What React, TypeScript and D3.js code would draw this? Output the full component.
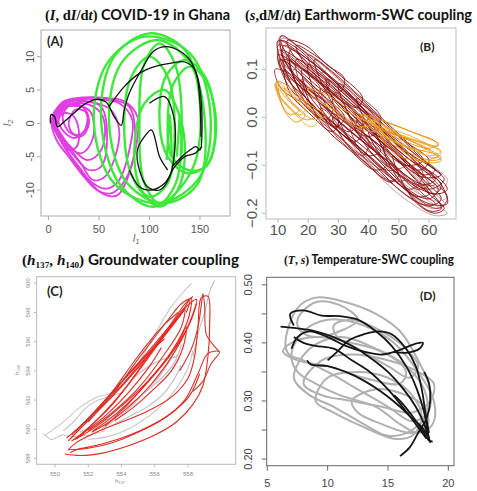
import React from 'react';
import * as d3 from 'd3';

type Pt = [number, number];

// ---------- Panel A : (I, dI/dt) COVID-19 in Ghana ----------
const aXTicks = [0, 50, 100, 150];
const aYTicks = [-10, -5, 0, 5, 10];

const magentaLoops: Pt[][] = [
  [[3, 0.5], [12, 2.8], [30, 3.7], [55, 3.8], [75, 3.3], [88, 1], [86, -4], [76, -8.5], [62, -10.5], [48, -10], [35, -8], [20, -5], [8, -2.5]],
  [[4, 0], [12, 2.5], [28, 3.5], [50, 3.6], [70, 3], [83, 0.5], [80, -4], [70, -8.5], [58, -9.8], [44, -9], [30, -6.5], [16, -3.5]],
  [[5, 0], [15, 2.5], [30, 3.2], [48, 3], [62, 2], [70, -1], [66, -5], [56, -8], [44, -8.5], [32, -6], [18, -3]],
  [[6, 0.5], [14, 2.5], [26, 3], [40, 2.8], [52, 1.5], [56, -1.5], [50, -4.5], [38, -5.5], [25, -4], [14, -2]],
  [[7, 0], [15, 2.3], [28, 2.6], [40, 2], [45, 0], [42, -3], [32, -4.5], [20, -3.5], [11, -1.5]],
  [[10, 0.5], [18, 2.5], [30, 2.8], [38, 1.5], [36, -1], [26, -2.2], [15, -1.2]],
  [[14, 1], [22, 2.8], [34, 2.5], [40, 0.5], [34, -1.5], [22, -1.5]],
  [[20, 0], [26, 2], [36, 1.8], [40, -0.2], [32, -2], [24, -1.5]],
  [[8, -0.5], [14, 1.5], [24, 1.2], [30, -1], [28, -3.5], [20, -4], [12, -2.5]],
  [[6, 1], [16, 3], [34, 3.4], [52, 2.5], [58, -2], [52, -6.5], [40, -7], [26, -5], [12, -2]],
  [[5, 0.8], [14, 3.2], [36, 3.9], [62, 3.6], [80, 2.5], [86, -2], [80, -7.5], [68, -10.8], [54, -10.6], [40, -8.6], [24, -5.5], [10, -2]],
];

const greenLoops: Pt[][] = [
  [[45, 0], [58, 9], [95, 13], [140, 10.5], [160, 2], [150, -8], [110, -12], [65, -9]],
  [[52, 1], [65, 10], [100, 13.5], [135, 11], [150, 3], [142, -7], [105, -12.5], [70, -9]],
  [[60, 0], [72, 9], [108, 12.5], [140, 9], [155, 0], [148, -9], [115, -12], [78, -9]],
  [[90, 0], [95, 9], [110, 12], [125, 9], [132, 0], [126, -9], [110, -12], [95, -9]],
  [[110, 0], [116, 7], [135, 9.5], [155, 7], [165, 0], [158, -6], [138, -7.5], [118, -5]],
  [[118, 0], [124, 6], [140, 8.5], [157, 6], [166, -1], [156, -6.5], [138, -7], [122, -5]],
  [[75, -1], [82, 7], [100, 10], [118, 7], [125, -1], [118, -9], [100, -11], [83, -8]],
  [[85, -4], [95, 3], [115, 5], [130, 1], [135, -5], [128, -10], [110, -12.5], [92, -10]],
];

const greenSpikes: Pt[][] = [
  [[117, -5.5], [119, -1], [120, 1.3], [121, -0.5], [122, -5]],
  [[127, -5], [129, -1], [130, 1.3], [131, -0.5], [132, -4.5]],
];

const blackPathsA: Pt[][] = [
  [[2, 0], [2.5, 1.3], [6, 1], [9, -0.5], [16, 0.3], [25, 1.5], [35, 2.8], [47, 3.6], [57, 3.2], [65, 1], [72, -0.3], [75, 2], [80, 4.5], [92, 8], [104, 10.8], [115, 11.5], [128, 11], [140, 9.5], [147, 7], [150, 3], [151, -2]],
  [[60, 2.5], [75, 5.5], [90, 7.5], [105, 8.5], [120, 9], [135, 9.2], [145, 8], [150, 5], [152, 0], [150, -4], [146, -3.5], [140, -4], [132, -5], [122, -6.5]],
  [[100, 3], [115, 4], [124, 1], [125, -4], [120, -8], [110, -10], [98, -9.5], [90, -7], [88, -4], [95, -2], [102, -1], [110, -5], [118, -7]],
  [[80, -7], [90, -9.5], [102, -10], [115, -9], [125, -6.5], [135, -5], [145, -4.5], [152, -3.5]],
];

// ---------- Panel B : (s, dM/dt) Earthworm-SWC coupling ----------
const bXTicks = [10, 20, 30, 40, 50, 60];
const bYTicks = [-0.2, -0.1, 0.0, 0.1];

const darkLoopsB: Pt[][] = [
  [[10, 0.16], [20, 0.12], [32, 0.06], [45, -0.03], [55, -0.09], [62, -0.13], [58, -0.14], [46, -0.09], [34, -0.03], [22, 0.04], [12, 0.1]],
  [[11, 0.17], [18, 0.14], [28, 0.08], [38, 0.02], [44, -0.02], [40, -0.04], [30, 0.0], [20, 0.06], [12, 0.12]],
  [[12, 0.15], [22, 0.1], [34, 0.03], [48, -0.05], [60, -0.12], [66, -0.17], [63, -0.19], [54, -0.16], [42, -0.09], [30, -0.03], [18, 0.04], [12, 0.1]],
  [[10, 0.13], [16, 0.11], [26, 0.06], [36, 0.0], [34, -0.03], [24, 0.01], [14, 0.06]],
  [[14, 0.14], [24, 0.1], [36, 0.03], [50, -0.06], [62, -0.11], [65, -0.13], [60, -0.15], [48, -0.11], [36, -0.05], [24, 0.01], [16, 0.07]],
  [[16, 0.12], [26, 0.08], [40, 0.0], [52, -0.07], [58, -0.12], [54, -0.15], [44, -0.11], [32, -0.05], [20, 0.03]],
  [[12, 0.12], [20, 0.09], [30, 0.04], [38, -0.01], [36, -0.05], [28, -0.02], [18, 0.03]],
  [[20, 0.11], [30, 0.06], [42, -0.01], [56, -0.09], [64, -0.14], [66, -0.18], [60, -0.18], [50, -0.14], [38, -0.07], [26, 0.0]],
  [[9, 0.1], [14, 0.09], [22, 0.05], [28, 0.02], [26, -0.005], [18, 0.03], [11, 0.06]],
  [[22, 0.12], [32, 0.07], [44, 0.0], [54, -0.06], [58, -0.09], [52, -0.1], [42, -0.05], [30, 0.01]],
  [[28, 0.05], [38, 0.0], [48, -0.06], [58, -0.13], [64, -0.17], [60, -0.185], [52, -0.16], [42, -0.1], [32, -0.03]],
  [[10, 0.15], [15, 0.14], [22, 0.1], [27, 0.07], [24, 0.05], [17, 0.08], [11, 0.12]],
  [[30, 0.07], [40, 0.02], [50, -0.04], [60, -0.1], [64, -0.12], [58, -0.125], [46, -0.07], [35, -0.01]],
  [[18, 0.08], [26, 0.03], [34, -0.02], [42, -0.07], [46, -0.1], [42, -0.11], [34, -0.07], [24, -0.01]],
  [[34, -0.02], [42, -0.06], [50, -0.11], [58, -0.16], [62, -0.18], [57, -0.18], [48, -0.14], [38, -0.08]],
  [[13, 0.16], [19, 0.15], [26, 0.11], [32, 0.08], [30, 0.05], [22, 0.09], [15, 0.13]],
  [[40, -0.03], [46, -0.05], [54, -0.09], [62, -0.12], [66, -0.15], [62, -0.16], [52, -0.13], [44, -0.08]],
  [[24, 0.06], [32, 0.02], [40, -0.03], [48, -0.07], [52, -0.1], [46, -0.11], [38, -0.07], [28, 0.0]],
  [[11, 0.14], [17, 0.12], [25, 0.08], [34, 0.03], [40, -0.0], [36, -0.02], [26, 0.03], [16, 0.08]],
  [[45, -0.06], [52, -0.09], [58, -0.12], [63, -0.15], [60, -0.17], [53, -0.15], [47, -0.1]],
  [[15, 0.1], [24, 0.05], [32, 0.0], [40, -0.05], [38, -0.08], [30, -0.04], [20, 0.02]],
  [[36, 0.04], [44, -0.01], [52, -0.05], [60, -0.09], [57, -0.11], [48, -0.08], [40, -0.02]],
  [[11, 0.16], [16, 0.145], [24, 0.1], [34, 0.045], [44, -0.01], [42, -0.03], [32, 0.02], [22, 0.07], [14, 0.12]],
  [[13, 0.13], [22, 0.085], [32, 0.03], [44, -0.04], [54, -0.1], [60, -0.14], [56, -0.15], [46, -0.09], [34, -0.02], [22, 0.04], [15, 0.09]],
  [[18, 0.1], [28, 0.05], [38, -0.01], [50, -0.08], [60, -0.15], [64, -0.19], [60, -0.195], [52, -0.15], [40, -0.08], [28, -0.01], [20, 0.05]],
  [[26, 0.08], [36, 0.03], [46, -0.03], [56, -0.08], [62, -0.11], [58, -0.12], [48, -0.07], [36, -0.01], [28, 0.04]],
  [[10, 0.14], [13, 0.13], [18, 0.1], [24, 0.06], [22, 0.04], [16, 0.07], [11, 0.1]],
  [[32, 0.03], [40, -0.02], [48, -0.08], [56, -0.13], [60, -0.16], [56, -0.165], [48, -0.12], [38, -0.05]],
  [[14, 0.12], [22, 0.08], [30, 0.03], [38, -0.03], [44, -0.07], [40, -0.08], [32, -0.04], [22, 0.02], [16, 0.07]],
  [[20, 0.13], [28, 0.095], [36, 0.05], [44, 0.0], [42, -0.02], [34, 0.02], [24, 0.07]],
  [[42, -0.02], [50, -0.07], [58, -0.11], [64, -0.14], [62, -0.16], [54, -0.13], [46, -0.08]],
  [[16, 0.15], [22, 0.13], [30, 0.09], [38, 0.04], [36, 0.02], [28, 0.06], [19, 0.11]],
  [[24, 0.02], [32, -0.02], [40, -0.06], [48, -0.1], [52, -0.13], [46, -0.13], [38, -0.09], [28, -0.03]],
  [[48, -0.08], [54, -0.12], [60, -0.16], [65, -0.19], [62, -0.2], [56, -0.18], [50, -0.12]],
  [[12, 0.1], [18, 0.06], [24, 0.03], [30, -0.01], [28, -0.03], [20, 0.01], [14, 0.05]],
  [[36, 0.0], [44, -0.04], [52, -0.09], [58, -0.12], [62, -0.14], [56, -0.14], [46, -0.1], [40, -0.05]],
  [[10.5, 0.12], [14, 0.11], [19, 0.08], [26, 0.04], [32, 0.0], [29, -0.02], [21, 0.03], [13, 0.08]],
  [[28, 0.0], [36, -0.04], [44, -0.08], [50, -0.12], [47, -0.135], [40, -0.1], [32, -0.05]],
];

const paleLoopsB: Pt[][] = [
  [[10.5, 0.168], [16, 0.15], [28, 0.09], [42, 0.0], [56, -0.08], [66, -0.13], [64, -0.15], [54, -0.11], [40, -0.05], [26, 0.03], [14, 0.1]],
  [[30, -0.01], [40, -0.06], [50, -0.12], [60, -0.175], [66, -0.2], [62, -0.205], [52, -0.17], [40, -0.1]],
  [[38, -0.02], [48, -0.07], [58, -0.12], [66, -0.165], [63, -0.175], [52, -0.14], [42, -0.07]],
  [[44, -0.05], [52, -0.1], [60, -0.15], [65, -0.18], [61, -0.19], [54, -0.16], [47, -0.1]],
  [[10, 0.155], [12, 0.165], [18, 0.14], [26, 0.1], [22, 0.09], [14, 0.12]],
];

const orangeLoopsB: Pt[][] = [
  [[9.5, 0.075], [12, 0.07], [16, 0.05], [20, 0.02], [22, 0.0], [19, -0.005], [14, 0.02], [10, 0.05]],
  [[10, 0.065], [14, 0.05], [18, 0.03], [24, 0.0], [21, -0.02], [15, 0.01], [11, 0.04]],
  [[9, 0.07], [11, 0.06], [14, 0.035], [17, 0.015], [14, 0.005], [11, 0.03]],
  [[20, 0.06], [28, 0.04], [36, 0.01], [42, -0.01], [38, -0.02], [30, 0.01], [22, 0.04]],
  [[38, 0.005], [46, -0.01], [54, -0.03], [62, -0.05], [63, -0.06], [56, -0.05], [46, -0.03], [40, -0.01]],
  [[40, -0.005], [48, -0.025], [56, -0.045], [64, -0.075], [62, -0.085], [54, -0.065], [46, -0.04]],
  [[42, -0.02], [50, -0.04], [58, -0.06], [64, -0.085], [61, -0.09], [52, -0.07], [44, -0.04]],
  [[36, 0.0], [44, -0.02], [52, -0.04], [60, -0.06], [57, -0.07], [48, -0.05], [40, -0.02]],
  [[44, -0.04], [52, -0.06], [58, -0.07], [63, -0.08], [58, -0.09], [50, -0.08]],
  [[9.5, 0.072], [11, 0.07], [13, 0.055], [16, 0.035], [19, 0.015], [17, 0.005], [13, 0.025], [10.5, 0.045]],
  [[10.2, 0.06], [12, 0.045], [15, 0.025], [19, 0.005], [16, -0.01], [12, 0.015]],
  [[12, 0.06], [16, 0.045], [22, 0.02], [26, 0.005], [22, -0.005], [16, 0.02]],
  [[40, 0.0], [50, -0.02], [58, -0.04], [63, -0.055], [60, -0.065], [52, -0.05], [44, -0.025]],
  [[42, -0.01], [50, -0.035], [58, -0.055], [64, -0.07], [61, -0.08], [52, -0.06], [45, -0.035]],
  [[46, -0.03], [54, -0.05], [60, -0.07], [64, -0.09], [60, -0.095], [52, -0.075]],
  [[26, 0.03], [32, 0.015], [38, -0.005], [44, -0.025], [40, -0.03], [33, -0.01]],
];

// ---------- Panel C : (h137, h140) Groundwater coupling ----------
const cXTicks = [550, 552, 554, 556, 558];
const cYTicks = [588, 590, 592, 594, 596, 598, 600];

const redPathsC: Pt[][] = [
  [[550.8, 589.2], [552, 590.6], [553.5, 592.3], [555, 594.2], [556.5, 596.3], [557.6, 598], [558.2, 599], [558, 597.5], [557, 595.3], [555.5, 593.2], [554, 591.6], [552.5, 590.2], [551.2, 589.3]],
  [[551, 589.6], [552.2, 591], [553.4, 592.5], [554.6, 594], [555.8, 595.6], [557, 597.2], [557.8, 598.3], [557.6, 597], [556.5, 595], [555, 592.8], [553.5, 591.2], [552, 589.9]],
  [[551.5, 589.5], [553, 591.2], [554.5, 593.2], [556, 595.5], [557.2, 597.4], [558, 598.5], [558.5, 598.9], [558.3, 597.8], [557.5, 596], [556.3, 594.2], [555, 592.5], [553.5, 590.9], [552.3, 589.9]],
  [[550.6, 588.3], [551.5, 588.2], [553, 588.4], [554.5, 588.9], [556, 589.6], [557.3, 590.5], [558.3, 591.7], [558.9, 593], [559.2, 595], [559.3, 597], [559.2, 599.1], [558.8, 599], [558.6, 597], [558.4, 595], [558, 593.5], [557, 592.2], [555.5, 591.2], [554, 590.5], [552.5, 589.8], [551.3, 589.1], [550.8, 588.6]],
  [[550.8, 588.6], [552, 588.7], [553.5, 589.1], [555, 589.8], [556.5, 590.7], [557.8, 592], [558.6, 593.8], [559.2, 595.2], [559.9, 595.3], [559.4, 594.5], [558.9, 593.3], [558.3, 592.6]],
  [[552, 590.5], [553, 591.8], [554, 593], [555, 594.3], [556, 595.6], [557, 597], [557.8, 598.2]],
  [[551.2, 589.8], [552.4, 591.2], [553.6, 592.7], [554.8, 594.2], [555.8, 595.4], [556.6, 596.2]],
  [[557.5, 594], [558.2, 595.5], [558.6, 597], [558.8, 598.5], [558.9, 599.3], [559, 598.5], [559.1, 596.5], [559.5, 595.8], [559.9, 595.3]],
  [[551, 589.2], [552, 590], [553, 590.9], [554, 592], [555, 593.3], [555.8, 594.5], [556.4, 595.6]],
  [[553, 590.2], [554.2, 591.5], [555.4, 593], [556.6, 594.6], [557.4, 595.9], [557.9, 597], [557.7, 595.6], [557, 594], [555.8, 592.6], [554.6, 591.4], [553.6, 590.6]],
  [[550.7, 589.4], [551.6, 590.3], [552.6, 591.4], [553.6, 592.8], [554.6, 594.4], [555.6, 595.9], [556.6, 597.2], [557.4, 598]],
  [[551.3, 589.4], [552.3, 590.4], [553.3, 591.5], [554.3, 592.9], [555.3, 594.5], [556.3, 596.1], [557.2, 597.6], [557.9, 598.7], [558.3, 599.1]],
  [[552.5, 591.3], [553.5, 592.6], [554.5, 593.9], [555.5, 595.1], [556.5, 596.4], [557.3, 597.5]],
  [[551.8, 590.4], [552.8, 591.5], [553.8, 592.9], [554.8, 594.5], [555.8, 596], [556.8, 597.5], [557.6, 598.6], [558.1, 598.9], [557.9, 598]],
  [[552.2, 589.8], [553.4, 590.6], [554.6, 591.7], [555.8, 593.1], [556.8, 594.6], [557.6, 596.1], [558.2, 597.6], [558.5, 598.6]],
  [[550.9, 588.4], [551.3, 588.6], [552.5, 588.9], [554, 589.4], [555.5, 590.1], [557, 591.1], [558.1, 592.3], [558.7, 593.8]],
];

const grayPathsC: Pt[][] = [
  [[549.4, 589.6], [550.4, 590.4], [551.5, 591.5], [552.5, 592.2], [553.2, 592.4], [554, 592.9], [555, 594.5], [556, 596.5], [557, 598.4], [557.8, 599.5], [558.2, 600]],
  [[551.5, 589.8], [552.5, 590.3], [553.5, 590.9], [554.5, 591.7], [555.5, 592.6], [556.5, 593.6], [557.2, 594.6], [557.6, 595.8], [557.3, 595], [556.5, 594.8], [555.5, 594.2], [554.5, 593.3]],
  [[552, 589.3], [553.5, 589.6], [555, 590.4], [556.3, 591.5], [557.3, 592.8], [558, 594.2], [558.3, 595.4]],
  [[558.3, 595], [558.6, 596.5], [559, 598], [559.3, 599.4], [559.6, 600.2]],
  [[550.5, 589.9], [551.2, 590.6], [551.8, 591.4], [552.4, 591.9], [553.2, 592.2], [554, 592.5]],
  [[552.8, 590], [553.8, 590.8], [554.8, 591.8], [555.6, 592.8], [556.2, 593.5], [556.8, 594.5], [557.3, 595.5], [557.8, 596.6]],
  [[549.3, 589.7], [549.8, 589.3], [550.4, 589.6], [551, 589.5], [552, 589.6], [553, 589.9]],
  [[553.5, 590.3], [554.5, 590.9], [555.5, 591.5], [556.5, 592.4], [557.2, 593.5], [557.6, 594.4]],
];

// ---------- Panel D : (T, s) Temperature-SWC coupling ----------
const dXTicks = [5, 10, 15, 20];
const dYTicks = [0.2, 0.25, 0.3, 0.35, 0.4, 0.45, 0.5];
const dYLabels = [0.2, 0.3, 0.4, 0.5];

const grayLoopsD: Pt[][] = [
  [[6.5, 0.4], [7.5, 0.46], [9, 0.478], [11.5, 0.47], [14, 0.45], [16, 0.42], [17.5, 0.37], [18.5, 0.32], [18.3, 0.28], [17, 0.265], [15, 0.29], [12.5, 0.32], [10, 0.35], [8, 0.37], [6.8, 0.38]],
  [[7, 0.38], [8, 0.42], [10, 0.44], [13, 0.43], [15.5, 0.4], [17.5, 0.35], [18.8, 0.3], [18.7, 0.26], [17.5, 0.245], [16, 0.26], [14, 0.29], [11, 0.31], [9, 0.33], [7.5, 0.35]],
  [[7.2, 0.34], [8.5, 0.39], [11, 0.41], [14, 0.39], [16.5, 0.36], [18, 0.32], [18.2, 0.28], [17, 0.25], [15, 0.24], [13, 0.26], [10.5, 0.29], [8.5, 0.31]],
  [[8, 0.33], [9.5, 0.37], [12, 0.38], [15, 0.37], [17.5, 0.35], [18.8, 0.33], [18.5, 0.3], [17, 0.28], [14.5, 0.29], [12, 0.3], [9.5, 0.31]],
  [[9, 0.3], [10, 0.34], [12.5, 0.35], [15, 0.34], [17, 0.31], [17.8, 0.27], [17, 0.24], [15.5, 0.235], [13, 0.255], [10.5, 0.28]],
  [[6.3, 0.385], [7, 0.4], [9, 0.41], [12, 0.4], [15, 0.38], [16.5, 0.35], [16, 0.33], [13, 0.34], [10, 0.36], [7.5, 0.37]],
  [[10.5, 0.43], [12, 0.44], [14.5, 0.42], [16.5, 0.39], [17.5, 0.36], [16.8, 0.34], [15, 0.36], [12.5, 0.39], [10.8, 0.41]],
  [[7.5, 0.44], [9, 0.47], [11, 0.465], [12.5, 0.44], [11, 0.42], [9, 0.41], [7.8, 0.42]],
  [[12, 0.3], [14, 0.32], [16.5, 0.31], [18, 0.29], [18.3, 0.26], [17, 0.245], [14.5, 0.26], [12.5, 0.28]],
];

const blackPathsD: Pt[][] = [
  [[7.2, 0.43], [6.9, 0.45], [8, 0.456], [9.5, 0.447], [11, 0.446], [12.5, 0.44], [14, 0.42], [15.3, 0.395], [16.5, 0.36], [17.4, 0.32], [18, 0.28], [18.3, 0.245], [18.5, 0.228]],
  [[6.1, 0.428], [7.5, 0.425], [9, 0.42], [10.5, 0.41], [12, 0.395], [13.5, 0.375], [15, 0.35], [16.3, 0.32], [17.3, 0.29], [18, 0.26], [18.4, 0.235]],
  [[7, 0.39], [7.5, 0.41], [8.5, 0.42], [10, 0.41], [11.5, 0.395], [13, 0.385], [14.5, 0.38], [16, 0.388], [17.2, 0.398], [17.9, 0.4], [17.6, 0.39], [16.5, 0.383], [15.5, 0.384]],
  [[8.3, 0.37], [8.6, 0.363], [10, 0.36], [11.5, 0.35], [13, 0.335], [14.5, 0.315], [16, 0.29], [17, 0.27], [17.8, 0.255], [18.3, 0.24]],
  [[10, 0.37], [10.8, 0.385], [11.8, 0.405], [13, 0.415], [14.2, 0.42], [15.3, 0.415], [16.5, 0.39], [17.3, 0.36], [17.8, 0.32], [18.1, 0.28], [18.4, 0.245]],
  [[16, 0.205], [16.8, 0.22], [17.5, 0.245], [18.2, 0.27], [18.5, 0.3], [18.4, 0.33], [18, 0.35]],
  [[7.2, 0.41], [8, 0.4], [9, 0.395], [10.5, 0.39], [12, 0.37], [13.5, 0.35], [15, 0.32], [16.2, 0.29], [17.3, 0.26], [18.2, 0.235]],
  [[15.5, 0.31], [16, 0.3], [16.8, 0.28], [17.5, 0.26], [18, 0.245], [18.4, 0.232], [18.7, 0.23]],
];

const sans = "'Liberation Sans', Arial, sans-serif";
const titleFont = "Lato, 'Open Sans', sans-serif";
const mathFont = "'Liberation Serif', 'DejaVu Serif', serif";

function curveOf(x, y, closed) {
  return d3.line<Pt>()
    .x(d => x(d[0]))
    .y(d => y(d[1]))
    .curve(closed ? d3.curveCatmullRomClosed.alpha(0.5) : d3.curveCatmullRom.alpha(0.5));
}

function Axes({ x, y, xTicks, yTicks, yLabels, fmtX, fmtY, size, color, box, xLabY, yLabX, tick }) {
  const [x0, x1] = x.range();
  const [y0, y1] = y.range();
  const labels = yLabels || yTicks;
  return (
    <g>
      <rect x={x0} y={y1} width={x1 - x0} height={y0 - y1} fill="none" stroke={box} strokeWidth={1} />
      {xTicks.map(t => (
        <g key={'x' + t}>
          <line x1={x(t)} x2={x(t)} y1={y0} y2={y0 + tick} stroke={box} />
          <text x={x(t)} y={xLabY} textAnchor="middle" dominantBaseline="middle" fontSize={size} fill={color} fontFamily={sans}>{fmtX(t)}</text>
        </g>
      ))}
      {yTicks.map(t => (
        <line key={'y' + t} x1={x0} x2={x0 - tick} y1={y(t)} y2={y(t)} stroke={box} />
      ))}
      {labels.map(t => (
        <text key={'yl' + t} transform={`translate(${yLabX},${y(t)}) rotate(-90)`} textAnchor="middle" dominantBaseline="middle" fontSize={size} fill={color} fontFamily={sans}>{fmtY(t)}</text>
      ))}
    </g>
  );
}

export default function App() {
  // scales
  const ax = d3.scaleLinear().domain([-7.4, 179.7]).range([41, 230]);
  const ay = d3.scaleLinear().domain([-13.9, 14.0]).range([216, 30]);
  const bx = d3.scaleLinear().domain([6, 68.9]).range([266, 456]);
  const by = d3.scaleLinear().domain([-0.212, 0.186]).range([219, 28]);
  const cx = d3.scaleLinear().domain([548.9, 560.87]).range([36.7, 235.7]);
  const cy = d3.scaleLinear().domain([587.6, 600.45]).range([464.3, 276.7]);
  const dx = d3.scaleLinear().domain([4.95, 20.47]).range([266.7, 454]);
  const dy = d3.scaleLinear().domain([0.1885, 0.513]).range([465.7, 277.3]);

  const aClosed = curveOf(ax, ay, true), aOpen = curveOf(ax, ay, false);
  const bClosed = curveOf(bx, by, true);
  const cOpen = curveOf(cx, cy, false);
  const dClosed = curveOf(dx, dy, true), dOpen = curveOf(dx, dy, false);

  const clip = (id, x, y) => (
    <clipPath id={id}>
      <rect x={x.range()[0]} y={y.range()[1]} width={x.range()[1] - x.range()[0]} height={y.range()[0] - y.range()[1]} />
    </clipPath>
  );

  return (
    <svg width={477} height={491} style={{ position: 'absolute', left: 0, top: 0, background: '#fff' }}>
      <defs>
        {clip('ca', ax, ay)}
        {clip('cb', bx, by)}
        {clip('cc', cx, cy)}
        {clip('cd', dx, dy)}
      </defs>

      {/* Titles */}
      <text x={45} y={20} textLength={185} lengthAdjust="spacingAndGlyphs" fontSize={15} fontWeight="bold" fontFamily={titleFont} fill="#111">
        <tspan fontFamily={mathFont}>(<tspan fontStyle="italic">I</tspan>, d<tspan fontStyle="italic">I</tspan>/d<tspan fontStyle="italic">t</tspan>)</tspan> COVID-19 in Ghana
      </text>
      <text x={245} y={20} textLength={227} lengthAdjust="spacingAndGlyphs" fontSize={15} fontWeight="bold" fontFamily={titleFont} fill="#111">
        <tspan fontFamily={mathFont}>(<tspan fontStyle="italic">s</tspan>,d<tspan fontStyle="italic">M</tspan>/d<tspan fontStyle="italic">t</tspan>)</tspan> Earthworm-SWC coupling
      </text>
      <text x={22} y={265} textLength={217} lengthAdjust="spacingAndGlyphs" fontSize={15} fontWeight="bold" fontFamily={titleFont} fill="#111">
        <tspan fontFamily={mathFont}>(<tspan fontStyle="italic">h</tspan><tspan fontSize={9} dy={3}>137</tspan><tspan dy={-3}>, </tspan><tspan fontStyle="italic">h</tspan><tspan fontSize={9} dy={3}>140</tspan><tspan dy={-3}>)</tspan></tspan> Groundwater coupling
      </text>
      <text x={284} y={264} textLength={170} lengthAdjust="spacingAndGlyphs" fontSize={13} fontWeight="bold" fontFamily={titleFont} fill="#111">
        <tspan fontFamily={mathFont}>(<tspan fontStyle="italic">T</tspan>, <tspan fontStyle="italic">s</tspan>)</tspan> Temperature-SWC coupling
      </text>

      {/* Panel A */}
      <g clipPath="url(#ca)">
        {magentaLoops.map((p, i) => <path key={'m' + i} d={aClosed(p)} fill="none" stroke="#e03de4" strokeWidth={1.8} />)}
        {greenLoops.map((p, i) => <path key={'g' + i} d={aClosed(p)} fill="none" stroke="#3ee83a" strokeWidth={2.4} />)}
        {greenSpikes.map((p, i) => <path key={'s' + i} d={aOpen(p)} fill="none" stroke="#3ee83a" strokeWidth={2.4} />)}
        {blackPathsA.map((p, i) => <path key={'k' + i} d={aOpen(p)} fill="none" stroke="#111" strokeWidth={1.3} />)}
      </g>
      <Axes x={ax} y={ay} xTicks={aXTicks} yTicks={aYTicks} yLabels={null} fmtX={d => d} fmtY={d => d}
        size={11} color="#555" box="#aaa" xLabY={230} yLabX={31} tick={4} />
      <text transform="translate(136,242)" textAnchor="middle" fontSize={10} fill="#666" fontFamily={sans} fontStyle="italic">I<tspan fontSize={7} dy={2}>1</tspan></text>
      <text transform="translate(11,123) rotate(-90)" textAnchor="middle" fontSize={10} fill="#666" fontFamily={sans} fontStyle="italic">I<tspan fontSize={7} dy={2}>2</tspan></text>
      <text x={47} y={46} fontSize={13} fontWeight="bold" fontFamily={titleFont} fill="#222">(A)</text>

      {/* Panel B */}
      <g clipPath="url(#cb)">
        {paleLoopsB.map((p, i) => <path key={'p' + i} d={bClosed(p)} fill="none" stroke="#b48a92" strokeWidth={0.8} />)}
        {darkLoopsB.map((p, i) => <path key={'d' + i} d={bClosed(p)} fill="none" stroke={i % 3 === 2 ? '#a32e2e' : '#850909'} strokeWidth={0.9} />)}
        {orangeLoopsB.map((p, i) => <path key={'o' + i} d={bClosed(p)} fill="none" stroke={i % 2 ? '#f2a826' : '#e6900f'} strokeWidth={0.9} />)}
      </g>
      <Axes x={bx} y={by} xTicks={bXTicks} yTicks={bYTicks} yLabels={null} fmtX={d => d} fmtY={d3.format('.1f')}
        size={15} color="#555" box="#bbb" xLabY={231} yLabX={253} tick={4} />
      <text x={420} y={51} fontSize={12} fontWeight="bold" fontFamily={titleFont} fill="#222">(B)</text>

      {/* Panel C */}
      <g clipPath="url(#cc)">
        {grayPathsC.map((p, i) => <path key={'g' + i} d={cOpen(p)} fill="none" stroke={i % 2 ? '#b8bcc0' : '#c8c8c8'} strokeWidth={1.1} />)}
        {redPathsC.map((p, i) => <path key={'r' + i} d={cOpen(p)} fill="none" stroke={i % 3 === 1 ? '#c83a32' : '#e8261e'} strokeWidth={1.1} />)}
      </g>
      <Axes x={cx} y={cy} xTicks={cXTicks} yTicks={cYTicks} yLabels={null} fmtX={d => d} fmtY={d => d}
        size={6} color="#888" box="#bbb" xLabY={474} yLabX={28} tick={3} />
      <text x={120} y={483} textAnchor="middle" fontSize={6} fill="#888" fontFamily={sans}>h<tspan fontSize={4} dy={1}>137</tspan></text>
      <text transform="translate(19,370) rotate(-90)" textAnchor="middle" fontSize={6} fill="#888" fontFamily={sans}>h<tspan fontSize={4} dy={1}>140</tspan></text>
      <text x={47} y={296} fontSize={13} fontWeight="bold" fontFamily={titleFont} fill="#222">(C)</text>

      {/* Panel D */}
      <g clipPath="url(#cd)">
        {grayLoopsD.map((p, i) => <path key={'g' + i} d={dClosed(p)} fill="none" stroke="#b0b0b0" strokeWidth={2} />)}
        {blackPathsD.map((p, i) => <path key={'k' + i} d={dOpen(p)} fill="none" stroke="#151515" strokeWidth={1.8} />)}
      </g>
      <Axes x={dx} y={dy} xTicks={dXTicks} yTicks={dYTicks} yLabels={dYLabels} fmtX={d => d} fmtY={d3.format('.2f')}
        size={11} color="#444" box="#666" xLabY={484} yLabX={249} tick={5} />
      <text x={420} y={300} fontSize={12} fontWeight="bold" fontFamily={titleFont} fill="#222">(D)</text>
    </svg>
  );
}
